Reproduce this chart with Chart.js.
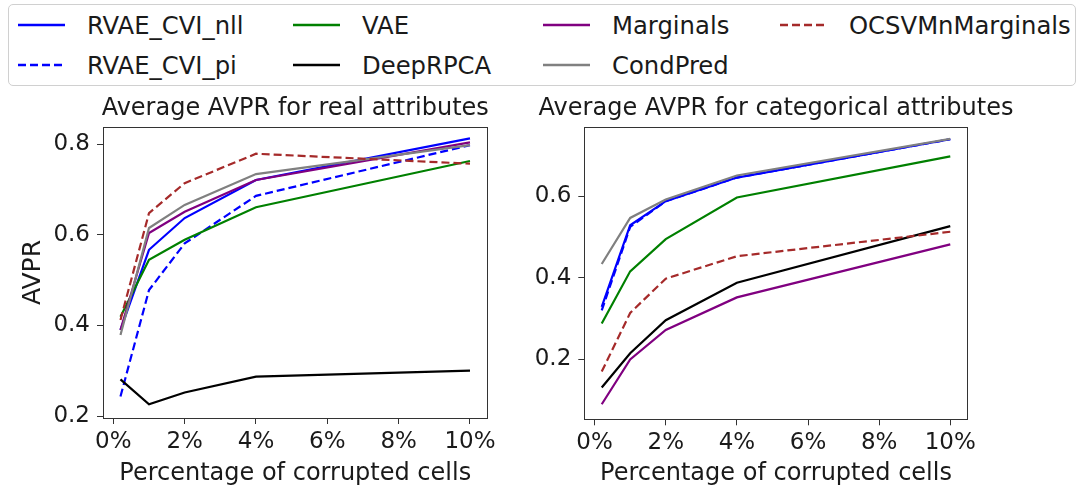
<!DOCTYPE html>
<html><head><meta charset="utf-8">
<script src="https://cdn.jsdelivr.net/npm/chart.js@4"></script>
<style>
html,body{margin:0;padding:0;background:#fff;width:1083px;height:491px;overflow:hidden;font-family:"DejaVu Sans";}
#legend{position:absolute;left:8px;top:4px;width:1068px;height:82px;border:1px solid #d0d0d0;border-radius:5px;box-sizing:border-box;}
.item{position:absolute;display:flex;align-items:center;font-size:24.3px;color:#1a1a1a;white-space:nowrap;height:30px;}
.item svg{margin-right:22px;}
canvas{position:absolute;}
</style></head><body>
<div id="legend"></div>
<canvas id="c1" width="500" height="403" style="left:0;top:88px"></canvas>
<canvas id="c2" width="588" height="403" style="left:495px;top:88px"></canvas>
<script>
// ---- data ----
const xPercent = [0.2, 1, 2, 4, 10];
const xTickValues = [0, 2, 4, 6, 8, 10];
const seriesNames = ['RVAE_CVI_nll','RVAE_CVI_pi','VAE','DeepRPCA','Marginals','CondPred','OCSVMnMarginals'];
const seriesColors = ['#0000ff','#0000ff','#008000','#000000','#800080','#808080','#a52a2a'];
const seriesDashed = [false, true, false, false, false, false, true];

// real attributes
const realNll      = [0.390, 0.567, 0.637, 0.721, 0.813];
const realPi       = [0.243, 0.478, 0.581, 0.686, 0.798];
const realVAE      = [0.419, 0.545, 0.589, 0.661, 0.763];
const realDeepRPCA = [0.281, 0.226, 0.252, 0.287, 0.300];
const realMarg     = [0.390, 0.604, 0.651, 0.721, 0.804];
const realCond     = [0.379, 0.615, 0.666, 0.734, 0.798];
const realOCSVM    = [0.412, 0.648, 0.714, 0.779, 0.757];
const realYTicks   = [0.2, 0.4, 0.6, 0.8];

// categorical attributes
const catNll      = [0.329, 0.529, 0.588, 0.646, 0.740];
const catPi       = [0.320, 0.525, 0.588, 0.646, 0.740];
const catVAE      = [0.288, 0.416, 0.495, 0.597, 0.698];
const catDeepRPCA = [0.131, 0.215, 0.296, 0.388, 0.527];
const catMarg     = [0.090, 0.200, 0.272, 0.352, 0.482];
const catCond     = [0.434, 0.547, 0.592, 0.651, 0.741];
const catOCSVM    = [0.170, 0.314, 0.398, 0.453, 0.513];
const catYTicks   = [0.2, 0.4, 0.6];

const realSeries = [realNll, realPi, realVAE, realDeepRPCA, realMarg, realCond, realOCSVM];
const catSeries  = [catNll, catPi, catVAE, catDeepRPCA, catMarg, catCond, catOCSVM];

const FONT = 'DejaVu Sans';
const TXT = '#1a1a1a';

// ---- legend (HTML) ----
const legCols = [18, 293, 543, 780];
const legRows = [25, 65];
seriesNames.forEach((name, i) => {
  const col = Math.floor(i / 2), row = i % 2;
  const d = document.createElement('div');
  d.className = 'item';
  d.style.left = legCols[col] + 'px';
  d.style.top = (legRows[row] - 15) + 'px';
  const dash = seriesDashed[i] ? 'stroke-dasharray="8,4"' : '';
  d.innerHTML = `<svg width="47" height="6"><line x1="0" y1="3" x2="47" y2="3" stroke="${seriesColors[i]}" stroke-width="2.4" ${dash}/></svg><span>${name}</span>`;
  document.body.appendChild(d);
});

// ---- plugins ----
const frame = {
  id: 'frame',
  afterDatasetsDraw(chart) {
    const {ctx, chartArea: a} = chart;
    ctx.save();
    ctx.strokeStyle = '#333';
    ctx.lineWidth = 1;
    ctx.strokeRect(Math.round(a.left) + 0.5, Math.round(a.top) + 0.5, Math.round(a.right - a.left), Math.round(a.bottom - a.top));
    ctx.restore();
  }
};
const axTitle = {
  id: 'axTitle',
  afterDraw(chart, args, opts) {
    const {ctx, chartArea: a} = chart;
    ctx.save();
    ctx.font = `24px "${FONT}"`;
    ctx.fillStyle = TXT;
    ctx.textAlign = 'center';
    ctx.textBaseline = 'middle';
    ctx.fillText(opts.text, (a.left + a.right) / 2, opts.y);
    ctx.restore();
  }
};

function makeChart(id, title, yTitle, values, yMin, yMax, yTicks, yAxisWidth, rightPad, xAxisHeight) {
  const datasets = values.map((v, i) => ({
    label: seriesNames[i],
    data: xPercent.map((x, k) => ({x, y: v[k]})),
    borderColor: seriesColors[i],
    backgroundColor: seriesColors[i],
    borderWidth: 2.2,
    borderDash: seriesDashed[i] ? [8, 4] : [],
    pointRadius: 0,
    tension: 0,
    fill: false,
    order: values.length - i
  }));
  return new Chart(document.getElementById(id), {
    type: 'line',
    data: {datasets},
    plugins: [frame, axTitle],
    options: {
      responsive: false,
      animation: false,
      layout: {padding: {top: 39, right: rightPad, left: 0, bottom: 0}},
      plugins: {
        legend: {display: false},
        tooltip: {enabled: false},
        axTitle: {text: title, y: 20.5}
      },
      scales: {
        x: {
          type: 'linear',
          min: -0.29, max: 10.49,
          afterBuildTicks: s => { s.ticks = xTickValues.map(v => ({value: v})); },
          afterFit: s => { s.height = xAxisHeight; },
          grid: {drawOnChartArea: false, drawTicks: true, tickLength: 6, color: '#333'},
          border: {display: false},
          ticks: {font: {family: FONT, size: 23}, color: TXT, padding: 4, maxRotation: 0, callback: v => v + '%'},
          title: {display: true, text: 'Percentage of corrupted cells', font: {family: FONT, size: 24}, color: TXT, padding: {top: 0, bottom: 3}}
        },
        y: {
          type: 'linear',
          min: yMin, max: yMax,
          afterBuildTicks: s => { s.ticks = yTicks.map(v => ({value: v})); },
          afterFit: s => { s.width = yAxisWidth; },
          grid: {drawOnChartArea: false, drawTicks: true, tickLength: 6, color: '#333'},
          border: {display: false},
          ticks: {font: {family: FONT, size: 23}, color: TXT, padding: 7, callback: v => v.toFixed(1)},
          title: {display: !!yTitle, text: yTitle, font: {family: FONT, size: 25}, color: TXT, padding: {top: 18, bottom: 0}}
        }
      }
    }
  });
}

makeChart('c1', 'Average AVPR for real attributes', 'AVPR', realSeries, 0.1956, 0.838, realYTicks, 103, 10, 73);
makeChart('c2', 'Average AVPR for categorical attributes', '', catSeries, 0.053, 0.770, catYTicks, 89.3, 115.3, 71.7);
</script>
</body></html>
